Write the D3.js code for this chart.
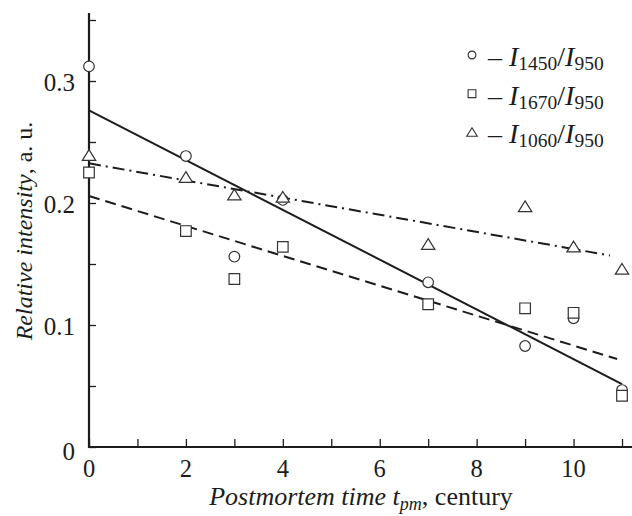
<!DOCTYPE html>
<html>
<head>
<meta charset="UTF-8">
<script src="https://cdn.jsdelivr.net/npm/d3@7/dist/d3.min.js"></script>
</head>
<body style="margin:0">
<script>
    // postmortem time, centuries
    const times = [0, 2, 3, 4, 7, 9, 10, 11];
    const i1450 = [0.312, 0.2385, 0.156, 0.2025, 0.135, 0.0828, 0.1055, 0.0467];
    const i1670 = [0.225, 0.177, 0.1377, 0.164, 0.117, 0.1137, 0.110, 0.042];
    const i1060 = [0.239, 0.221, 0.2066, 0.2047, 0.166, 0.197, 0.164, 0.1457];

    // linear fits, [t, value] end points
    const fit1450 = [[0, 0.276], [11, 0.0516]];
    const fit1670 = [[0, 0.2057], [10.9, 0.0721]];
    const fit1060 = [[0, 0.2325], [10.75, 0.157]];

    const xTicks = d3.range(0, 12, 1);
    const xLabels = [0, 2, 4, 6, 8, 10];
    const yTicks = [0, 0.05, 0.1, 0.15, 0.2, 0.25, 0.3, 0.35];
    const yLabels = [0, 0.1, 0.2, 0.3];

    const width = 632, height = 516;
    const ink = '#1c1c1c';
    const serif = 'Liberation Serif, Tinos, Times New Roman, serif';

    const x = d3.scaleLinear().domain([0, 11]).range([89, 622]);
    const y = d3.scaleLinear().domain([0, 0.3]).range([447, 81]);

    const svg = d3.select('body').append('svg')
        .attr('width', width)
        .attr('height', height)
        .attr('font-family', serif)
        .style('font-family', serif);

    // axes
    const xAxis = svg.append('g')
        .attr('transform', `translate(0,${y(0)})`)
        .call(d3.axisBottom(x).tickValues(xTicks).tickSize(-8).tickFormat(''));
    xAxis.select('.domain').remove();
    xAxis.selectAll('.tick line').attr('stroke', ink).attr('stroke-width', 1.3);

    const yAxis = svg.append('g')
        .attr('transform', `translate(${x(0)},0)`)
        .call(d3.axisLeft(y).tickValues(yTicks).tickSize(-7).tickFormat(''));
    yAxis.select('.domain').remove();
    yAxis.selectAll('.tick line').attr('stroke', ink).attr('stroke-width', 1.3);

    svg.append('line')
        .attr('x1', x(0)).attr('x2', width)
        .attr('y1', y(0)).attr('y2', y(0))
        .attr('stroke', ink).attr('stroke-width', 2.2);
    svg.append('line')
        .attr('x1', x(0)).attr('x2', x(0))
        .attr('y1', y(0) + 1).attr('y2', 13)
        .attr('stroke', ink).attr('stroke-width', 2.2);

    svg.selectAll('text.xl')
        .data(xLabels)
        .join('text')
        .attr('class', 'xl')
        .attr('x', d => x(d))
        .attr('y', 477)
        .attr('text-anchor', 'middle')
        .attr('font-size', 24.5)
        .attr('font-family', serif)
        .attr('fill', ink)
        .text(d => d);

    svg.selectAll('text.yl')
        .data(yLabels)
        .join('text')
        .attr('class', 'yl')
        .attr('x', 75)
        .attr('y', d => y(d) + (d === 0 ? 13 : 10))
        .attr('text-anchor', 'end')
        .attr('font-size', 25)
        .attr('font-family', serif)
        .attr('fill', ink)
        .text(d => d === 0 ? '0' : d3.format('.1f')(d));

    // axis titles
    const xt = svg.append('text')
        .attr('x', 361).attr('y', 505)
        .attr('text-anchor', 'middle')
        .attr('font-size', 26)
        .attr('font-family', serif)
        .attr('fill', ink);
    xt.append('tspan').attr('font-style', 'italic').text('Postmortem time t');
    xt.append('tspan').attr('font-style', 'italic').attr('font-size', 18).attr('dy', 5).text('pm');
    xt.append('tspan').attr('dy', -5).text(', century');

    const yt = svg.append('text')
        .attr('transform', 'translate(32,231) rotate(-90)')
        .attr('text-anchor', 'middle')
        .attr('font-size', 24)
        .attr('font-family', serif)
        .attr('fill', ink);
    yt.append('tspan').attr('font-style', 'italic').text('Relative intensity');
    yt.append('tspan').text(', a. u.');

    // fit lines
    const line = d3.line().x(d => x(d[0])).y(d => y(d[1]));
    const fits = [
        { pts: fit1450, dash: null },
        { pts: fit1670, dash: '11,6' },
        { pts: fit1060, dash: '12,5,2,5' }
    ];
    svg.append('g').selectAll('path')
        .data(fits)
        .join('path')
        .attr('d', d => line(d.pts))
        .attr('fill', 'none')
        .attr('stroke', ink)
        .attr('stroke-width', 2)
        .attr('stroke-dasharray', d => d.dash);

    // markers
    const symbols = {
        circle: (r) => d3.symbol(d3.symbolCircle, Math.PI * r * r)(),
        square: (r) => d3.symbol(d3.symbolSquare, (2 * r) * (2 * r))(),
        triangle: (r) => `M0,${-r}L${r * 1.15},${r * 0.85}L${-r * 1.15},${r * 0.85}Z`
    };
    const series = [
        { values: i1450, shape: 'circle', r: 5.3, key: '1450' },
        { values: i1670, shape: 'square', r: 5.3, key: '1670' },
        { values: i1060, shape: 'triangle', r: 5.8, key: '1060' }
    ];

    series.forEach(s => {
        svg.append('g').selectAll('path')
            .data(s.values)
            .join('path')
            .attr('transform', (d, i) => `translate(${x(times[i])},${y(d)})`)
            .attr('d', symbols[s.shape](s.r))
            .attr('fill', '#fff')
            .attr('stroke', '#333')
            .attr('stroke-width', 1.2);
    });

    // legend
    const legend = svg.append('g').selectAll('g')
        .data(series)
        .join('g')
        .attr('transform', (d, i) => `translate(472,${55 + i * 38.7})`);

    legend.append('path')
        .attr('d', d => symbols[d.shape](d.shape === 'triangle' ? 4.6 : 3.9))
        .attr('fill', '#fff')
        .attr('stroke', '#333')
        .attr('stroke-width', 1.1);

    const lt = legend.append('text')
        .attr('x', 16).attr('y', 11)
        .attr('font-size', 28)
        .attr('font-family', serif)
        .attr('fill', ink);
    lt.append('tspan').text('\u2013 ');
    lt.append('tspan').attr('font-style', 'italic').text('I');
    lt.append('tspan').attr('font-size', 19.5).attr('dy', 4).text(d => d.key);
    lt.append('tspan').attr('dy', -4).text('/');
    lt.append('tspan').attr('font-style', 'italic').text('I');
    lt.append('tspan').attr('font-size', 19.5).attr('dy', 4).text('950');
</script>
</body>
</html>
